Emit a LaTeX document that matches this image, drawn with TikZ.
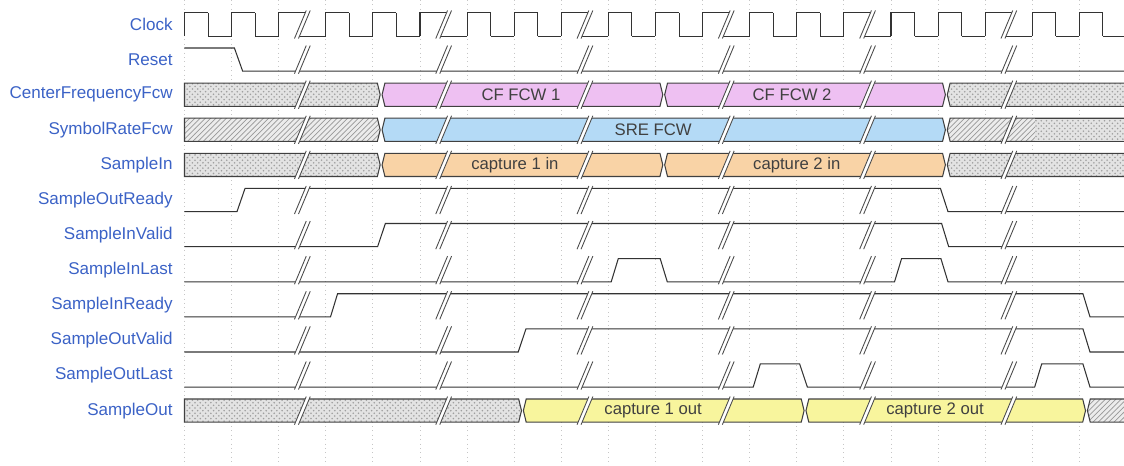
\documentclass[tikz,border=0pt]{standalone}
\usepackage{fontspec}
\setmainfont{Liberation Sans}
\usetikzlibrary{patterns}
\definecolor{sigblue}{HTML}{3B62C6}
\definecolor{cfpink}{HTML}{EEC0F2}
\definecolor{srblue}{HTML}{B4DAF6}
\definecolor{inorange}{HTML}{F9D3A6}
\definecolor{outyellow}{HTML}{F8F59D}

\begin{document}
\begin{tikzpicture}[x=0.471cm, y=-0.702cm,
  sig/.style={line width=0.6pt, draw=black!80},
  lbl/.style={anchor=east, inner sep=0pt, text=sigblue, font=\fontsize{9.7}{11}\selectfont},
  val/.style={inner sep=0pt, text=black!75, font=\fontsize{9.5}{11}\selectfont},
  bus/.style={line width=0.6pt, draw=black!75},
  dots/.style={bus, preaction={fill=gray!22}, pattern=crosshatch dots, pattern color=gray!75},
  lines/.style={bus, preaction={fill=gray!15}, pattern=north east lines, pattern color=gray!80},
  brk/.style={line width=0.5pt, draw=black!70},
  grid line/.style={gray!45, dotted, line width=0.5pt}]
\clip (-7.834,-0.698) rectangle (39.894,12.578);

% clock grid
\foreach \k in {0,2,...,38}
  \draw[grid line] (\k,-0.7) -- (\k,12.6);

% signal names
\foreach \t [count=\i from 0] in {Clock,Reset,CenterFrequencyFcw,SymbolRateFcw,SampleIn,SampleOutReady,SampleInValid,SampleInLast,SampleInReady,SampleOutValid,SampleOutLast,SampleOut}
  \node[lbl] (name\i) at (-0.49,\i) {\t};

% buses
\draw[dots] (0,1.67) -- (8.19,1.67) -- (8.31,2) -- (8.19,2.33) -- (0,2.33) -- cycle;
\draw[bus, fill=cfpink] (8.39,2) -- (8.51,1.67) -- (20.19,1.67) -- (20.31,2) -- (20.19,2.33) -- (8.51,2.33) -- cycle;
\draw[bus, fill=cfpink] (20.39,2) -- (20.51,1.67) -- (32.19,1.67) -- (32.31,2) -- (32.19,2.33) -- (20.51,2.33) -- cycle;
\draw[dots] (32.39,2) -- (32.51,1.67) -- (40.5,1.67) -- (40.5,2.33) -- (32.51,2.33) -- cycle;

\draw[lines] (0,2.67) -- (8.19,2.67) -- (8.31,3) -- (8.19,3.33) -- (0,3.33) -- cycle;
\draw[bus, fill=srblue] (8.39,3) -- (8.51,2.67) -- (32.19,2.67) -- (32.31,3) -- (32.19,3.33) -- (8.51,3.33) -- cycle;
\draw[lines] (32.39,3) -- (32.51,2.67) -- (40.5,2.67) -- (40.5,3.33) -- (32.51,3.33) -- cycle;
\fill[gray!22, postaction={pattern=crosshatch dots, pattern color=gray!75}] (36.1,2.67) rectangle (40.5,3.33);
\draw[bus] (36.1,2.67) -- (40.5,2.67) (36.1,3.33) -- (40.5,3.33);

\draw[dots] (0,3.67) -- (8.19,3.67) -- (8.31,4) -- (8.19,4.33) -- (0,4.33) -- cycle;
\draw[bus, fill=inorange] (8.39,4) -- (8.51,3.67) -- (20.19,3.67) -- (20.31,4) -- (20.19,4.33) -- (8.51,4.33) -- cycle;
\draw[bus, fill=inorange] (20.39,4) -- (20.51,3.67) -- (32.19,3.67) -- (32.31,4) -- (32.19,4.33) -- (20.51,4.33) -- cycle;
\draw[dots] (32.39,4) -- (32.51,3.67) -- (40.5,3.67) -- (40.5,4.33) -- (32.51,4.33) -- cycle;

\draw[dots] (0,10.67) -- (14.19,10.67) -- (14.31,11) -- (14.19,11.33) -- (0,11.33) -- cycle;
\draw[bus, fill=outyellow] (14.39,11) -- (14.51,10.67) -- (26.19,10.67) -- (26.31,11) -- (26.19,11.33) -- (14.51,11.33) -- cycle;
\draw[bus, fill=outyellow] (26.39,11) -- (26.51,10.67) -- (38.14,10.67) -- (38.26,11) -- (38.14,11.33) -- (26.51,11.33) -- cycle;
\draw[lines] (38.34,11) -- (38.46,10.67) -- (40.5,10.67) -- (40.5,11.33) -- (38.46,11.33) -- cycle;

\node[val] (cf1) at (14.29,2) {CF FCW 1};
\node[val] (cf2) at (25.8,2) {CF FCW 2};
\node[val] (sre) at (19.9,3) {SRE FCW};
\node[val] (in1) at (14.03,4) {capture 1 in};
\node[val] (in2) at (26.0,4) {capture 2 in};
\node[val] (out1) at (19.9,11) {capture 1 out};
\node[val] (out2) at (31.87,11) {capture 2 out};

% clock
\foreach \k in {0,2,...,38}
  \draw[sig] (\k,.33) -- (\k,-.33) -- (\k+1,-.33) (\k+1,.33) -- (\k+2,.33);
\foreach \k in {1,3,7,9,13,15,19,21,25,27,31,33,37,39}
  \draw[sig] (\k,-.33) -- (\k,.33);

% control lines
\draw[sig] (0,.67) -- (2.12,.67) -- (2.47,1.33) -- (40.5,1.33);
\draw[sig] (0,5.33) -- (2.23,5.33) -- (2.57,4.67) -- (32.1,4.67) -- (32.42,5.33) -- (40.5,5.33);
\draw[sig] (0,6.33) -- (8.2,6.33) -- (8.53,5.67) -- (32.15,5.67) -- (32.45,6.33) -- (40.5,6.33);
\draw[sig] (0,7.33) -- (18.12,7.33) -- (18.42,6.67) -- (20.2,6.67) -- (20.5,7.33) -- (30.15,7.33) -- (30.45,6.67) -- (32.12,6.67) -- (32.42,7.33) -- (40.5,7.33);
\draw[sig] (0,8.33) -- (6.2,8.33) -- (6.5,7.67) -- (38.15,7.67) -- (38.45,8.33) -- (40.5,8.33);
\draw[sig] (0,9.33) -- (14.17,9.33) -- (14.5,8.67) -- (38.15,8.67) -- (38.45,9.33) -- (40.5,9.33);
\draw[sig] (0,10.33) -- (24.15,10.33) -- (24.45,9.67) -- (26.12,9.67) -- (26.45,10.33) -- (36.1,10.33) -- (36.4,9.67) -- (38.15,9.67) -- (38.45,10.33) -- (40.5,10.33);

% time breaks
\foreach \b in {5,11,17,23,29,35} {
  \draw[sig] (\b,-.33) -- (\b+.2,-.33) (\b-.2,.33) -- (\b,.33);
  \foreach \i in {0,...,11} {
    \fill[white] (\b-.33,\i+.4) -- (\b+.17,\i-.4) -- (\b+.34,\i-.4) -- (\b-.16,\i+.4) -- cycle;
    \draw[brk] (\b-.33,\i+.4) -- (\b+.17,\i-.4) (\b-.16,\i+.4) -- (\b+.34,\i-.4);
  }
}
\end{tikzpicture}
\end{document}
